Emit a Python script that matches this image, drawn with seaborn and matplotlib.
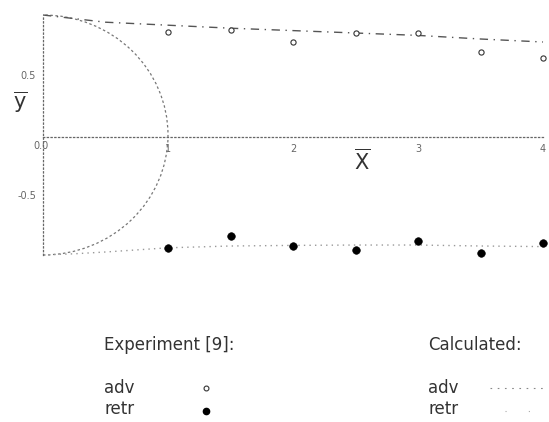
import numpy as np
import pandas as pd
import seaborn as sns
import matplotlib.pyplot as plt
from matplotlib.patches import Arc
from matplotlib.lines import Line2D

# Experimental points (Experiment [9])
exp_x = [1.0, 1.5, 2.0, 2.5, 3.0, 3.5, 4.0]
exp_adv = [0.86, 0.875, 0.775, 0.85, 0.85, 0.69, 0.64]
exp_retr = [-0.94, -0.84, -0.925, -0.96, -0.88, -0.98, -0.90]

# Calculated profiles
calc_x = [0.0, 0.25, 0.5, 1.0, 1.5, 2.0, 2.5, 3.0, 3.5, 4.0]
calc_adv = [1.0, 0.97, 0.94, 0.915, 0.89, 0.87, 0.85, 0.83, 0.80, 0.775]
calc_retr = [-1.0, -0.99, -0.975, -0.94, -0.925, -0.92, -0.917, -0.917, -0.925, -0.93]

df_exp = pd.DataFrame({"x": exp_x, "adv": exp_adv, "retr": exp_retr})
df_calc = pd.DataFrame({"x": calc_x, "adv": calc_adv, "retr": calc_retr})

sns.set_style("white")
plt.rcParams["font.family"] = ["DejaVu Sans"]
plt.rcParams["mathtext.fontset"] = "custom"
plt.rcParams["mathtext.sf"] = "DejaVu Sans"

fig = plt.figure(figsize=(5.49, 4.22), dpi=100)
ax = fig.add_axes([43 / 549, 1 - 255 / 422, 500 / 549, 240 / 422])

# calculated lines
sns.lineplot(data=df_calc, x="x", y="adv", ax=ax, color="#555555", lw=1.0,
             linestyle=(0, (6, 4, 1, 4)), clip_on=False)
sns.lineplot(data=df_calc, x="x", y="retr", ax=ax, color="#999999", lw=1.0,
             linestyle=(0, (1, 3)), clip_on=False)

# experiment
sns.scatterplot(data=df_exp, x="x", y="adv", ax=ax, marker="o", s=14,
                facecolor="white", edgecolor="#333333", linewidth=0.8, clip_on=False, zorder=5)
sns.scatterplot(data=df_exp, x="x", y="retr", ax=ax, marker="o", s=30,
                color="black", edgecolor="black", clip_on=False, zorder=5)

# cylinder cross-section
ax.add_patch(Arc((0, 0), 2, 2, theta1=-90, theta2=90, color="#777777",
                 lw=0.9, linestyle=(0, (2, 2)), clip_on=False))

ax.set_xlim(0, 4)
ax.set_ylim(-1, 1)
for s in ["top", "right"]:
    ax.spines[s].set_visible(False)
ax.spines["bottom"].set_position(("data", -0.02))
ax.spines["left"].set_position(("data", 0))
for s in ["bottom", "left"]:
    ax.spines[s].set_linestyle((0, (1, 2)))
    ax.spines[s].set_color("#666666")
    ax.spines[s].set_linewidth(0.9)

ax.set_xticks([1, 2, 3, 4])
ax.set_xticklabels(["1", "2", "3", "4"])
ax.set_yticks([0.5, -0.5])
ax.set_yticklabels(["0.5", "-0.5"])
ax.tick_params(axis="both", labelsize=7, colors="#666666", length=2, width=0.6, pad=3)
ax.set_xlabel("")
ax.set_ylabel("")
ax.text(-0.02, -0.09, "0.0", fontsize=7, color="#666666", ha="center", va="center")

ax.text(2.55, -0.22, r"$\overline{\mathsf{X}}$", fontsize=15, color="#333333",
        ha="center", va="center")
ax.text(-0.18, 0.27, r"$\overline{\mathsf{y}}$", fontsize=15, color="#333333",
        ha="center", va="center")

# legend block
tc = "#333333"
fig.text(104 / 549, 1 - 350 / 422, "Experiment [9]:", fontsize=12, color=tc, va="baseline")
fig.text(428 / 549, 1 - 350 / 422, "Calculated:", fontsize=12, color=tc, va="baseline")
for lab, yp in [("adv", 393), ("retr", 414)]:
    fig.text(104 / 549, 1 - yp / 422, lab, fontsize=12, color=tc, va="baseline")
    fig.text(428 / 549, 1 - yp / 422, lab, fontsize=12, color=tc, va="baseline")

fig.add_artist(Line2D([206 / 549], [1 - 388 / 422], marker="o", ms=3.5, mfc="white",
                      mec="#333333", mew=0.8, ls="none", transform=fig.transFigure))
fig.add_artist(Line2D([206 / 549], [1 - 411 / 422], marker="o", ms=4.5, color="black",
                      ls="none", transform=fig.transFigure))
fig.add_artist(Line2D([490 / 549, 546 / 549], [1 - 388 / 422] * 2, color="#888888", lw=0.8,
                      ls=(0, (1.5, 5)), transform=fig.transFigure))
fig.add_artist(Line2D([505 / 549, 535 / 549], [1 - 411 / 422] * 2, color="#aaaaaa", lw=0.8,
                      ls=(0, (1, 20)), transform=fig.transFigure))

fig.savefig("out.png", dpi=100)
